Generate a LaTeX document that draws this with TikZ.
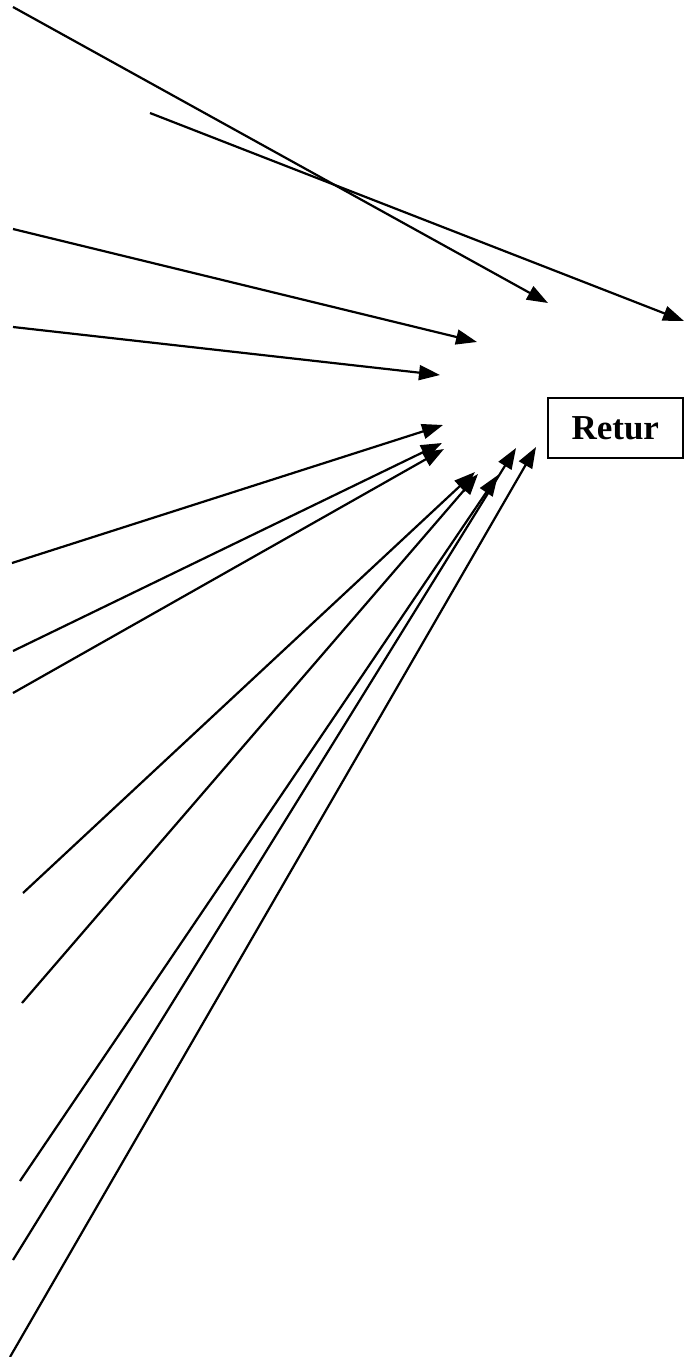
\documentclass[tikz,border=0pt]{standalone}
\usepackage{fontspec}
\setmainfont{Liberation Serif}
\usetikzlibrary{arrows.meta}
\begin{document}
\begin{tikzpicture}[x=1pt,y=-1pt,
  conn/.style={line width=2.2pt,-{Triangle[length=21pt,width=15pt]}},
  retbox/.style={draw,line width=1.6pt,minimum width=135pt,minimum height=60pt,inner sep=0pt,font=\fontsize{35}{40}\selectfont\bfseries}]
\useasboundingbox (0,0) rectangle (685,1357);
\node[retbox,anchor=north west] (retur) at (547,397) {Retur};
% start points
\coordinate (s1) at (13,7);
\coordinate (s2) at (150,113);
\coordinate (s3) at (13,229);
\coordinate (s4) at (13,327);
\coordinate (s5) at (12,563);
\coordinate (s6) at (13,651);
\coordinate (s7) at (13,693);
\coordinate (s8) at (23,893);
\coordinate (s9) at (22,1003);
\coordinate (s10) at (20,1181);
\coordinate (s11) at (13,1260);
\coordinate (s12) at (10,1357);
% tips
\coordinate (t1) at (548,303);
\coordinate (t2) at (684,321);
\coordinate (t3) at (477,342);
\coordinate (t4) at (440,375);
\coordinate (t5) at (443,425);
\coordinate (t6) at (442,443);
\coordinate (t7) at (444,449);
\coordinate (t8) at (475,472);
\coordinate (t9) at (478,474);
\coordinate (t10) at (498,475);
\coordinate (t11) at (516,448);
\coordinate (t12) at (536,447);
\foreach \i in {1,...,12} {\draw[conn] (s\i) -- (t\i);}
\end{tikzpicture}
\end{document}
